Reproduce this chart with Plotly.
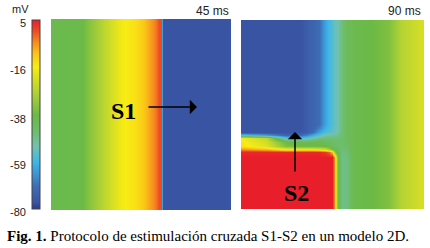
import plotly.graph_objects as go

# ---- colour scale (mV) ----
cmin, cmax = -80, 5
scale_mv = [-80, -77, -70, -64, -59, -52, -45, -38, -27, -20, -16, -10, -5, 0, 5]
scale_col = ['#2b3990', '#3a54a4', '#3d6cb5', '#3d96d5', '#3cb7e8', '#72c2b0', '#6dbd6a',
             '#6bb945', '#b5d334', '#dfe21f', '#f8ec14', '#fbc217', '#f58b1f', '#ee4a25', '#e81f2a']
colorbar_ticks = [5, -16, -38, -59, -80]

# ---- left panel (45 ms): voltage profile across x, uniform in y ----
left_x = [0, 29, 45, 60, 70, 85, 92, 99, 104, 108, 109.5, 110.5, 112, 180]
left_v = [-40, -39, -30, -22, -17, -14, -11, -7, -4, 0, 0, -62, -77, -77]
left_y = [0, 191]

# ---- right panel (90 ms): grid of voltages ----
right_x = [0, 25, 45, 60, 66, 72, 78, 84, 88, 91, 93, 94.5, 97, 101, 106, 112, 130, 147, 160, 183]
right_y = [0, 104, 108, 112, 115, 118, 122, 126, 129, 132, 137, 189]
top_row = [-77, -77, -77, -77, -74, -72, -70, -62, -58, -56, -54, -53, -51, -46, -42, -40, -38, -35, -27, -21]
bottom_row = [5, 5, 5, 5, 5, 5, 5, 5, 5, 5, -4, -22, -40, -48, -47, -40, -38, -35, -27, -21]
right_v = [
    top_row,
    top_row,
    [-77, -77, -77, -77, -74, -72, -67, -60, -57, -55, -54, -53, -51, -46, -42, -40, -38, -35, -27, -21],
    [-77, -77, -77, -76, -74, -70, -62, -57, -55, -54, -53, -52, -50, -46, -42, -40, -38, -35, -27, -21],
    [-55, -62, -72, -70, -66, -60, -55, -51, -50, -50, -49, -49, -48, -46, -42, -40, -38, -35, -27, -21],
    [-17, -25, -55, -56, -54, -50, -47, -46, -46, -46, -46, -46, -46, -45, -42, -40, -38, -35, -27, -21],
    [-15, -22, -38, -40, -40, -40, -40, -42, -43, -44, -44, -45, -45, -45, -43, -40, -38, -35, -27, -21],
    [-14, -20, -35, -37, -37, -37, -37, -38, -40, -42, -43, -44, -45, -46, -44, -40, -38, -35, -27, -21],
    [-6, -10, -18, -18, -18, -18, -20, -24, -30, -36, -40, -42, -44, -46, -45, -40, -38, -35, -27, -21],
    [4, 4, 4, 4, 4, 4, 4, 2, -2, -10, -28, -38, -42, -47, -46, -40, -38, -35, -27, -21],
    bottom_row,
    bottom_row,
]

panel_titles = ['45 ms', '90 ms']
caption_bold = 'Fig. 1.'
caption_text = ' Protocolo de estimulación cruzada S1-S2 en un modelo 2D.'

W, H = 430, 248
colorscale = [[(v - cmin) / (cmax - cmin), c] for v, c in zip(scale_mv, scale_col)]

fig = go.Figure()
fig.add_trace(go.Heatmap(
    x=left_x, y=left_y, z=[left_v, left_v], zsmooth='best',
    colorscale=colorscale, zmin=cmin, zmax=cmax, xaxis='x', yaxis='y',
    hoverinfo='skip',
    colorbar=dict(x=32 / W, xanchor='left', y=1 - 114.5 / H, yanchor='middle',
                  len=189 / H, lenmode='fraction', thickness=8, thicknessmode='pixels',
                  xpad=0, ypad=0, outlinewidth=1, outlinecolor='#444',
                  showticklabels=False, ticks=''),
))
fig.add_trace(go.Heatmap(
    x=right_x, y=right_y, z=right_v, zsmooth='best', showscale=False,
    colorscale=colorscale, zmin=cmin, zmax=cmax, xaxis='x2', yaxis='y2',
    hoverinfo='skip',
))

ax_common = dict(visible=False, showgrid=False, zeroline=False, fixedrange=True)
fig.update_layout(
    width=W, height=H, margin=dict(l=0, r=0, t=0, b=0),
    paper_bgcolor='white', plot_bgcolor='white', showlegend=False,
    xaxis=dict(domain=[51 / W, 231 / W], range=[0, 180], **ax_common),
    yaxis=dict(domain=[1 - 210 / H, 1 - 19 / H], range=[191, 0], **ax_common),
    xaxis2=dict(domain=[241 / W, 424 / W], range=[0, 183], **ax_common),
    yaxis2=dict(domain=[1 - 209 / H, 1 - 20 / H], range=[189, 0], **ax_common),
)

sans = 'Liberation Sans, Arial, sans-serif'
serif = 'Liberation Serif, Times New Roman, serif'
ann = []
# colour bar labels
bar_top, bar_bot = 20, 209
for t in colorbar_ticks:
    py = bar_top + (cmax - t) / (cmax - cmin) * (bar_bot - bar_top)
    ann.append(dict(x=28 / W, y=1 - (py + 3) / H, xref='paper', yref='paper', text=str(t),
                    showarrow=False, xanchor='right', yanchor='middle',
                    font=dict(family=sans, size=11, color='#222')))
ann.append(dict(x=31 / W, y=1 - 9 / H, xref='paper', yref='paper', text='mV', showarrow=False,
                xanchor='right', yanchor='middle', font=dict(family=sans, size=11, color='#222')))
# panel titles
ann.append(dict(x=231 / W, y=1 - 11 / H, xref='paper', yref='paper', text=panel_titles[0],
                showarrow=False, xanchor='right', yanchor='middle',
                font=dict(family=sans, size=12, color='#222')))
ann.append(dict(x=423 / W, y=1 - 11 / H, xref='paper', yref='paper', text=panel_titles[1],
                showarrow=False, xanchor='right', yanchor='middle',
                font=dict(family=sans, size=12, color='#222')))
# S1 arrow and label
ann.append(dict(x=146, y=88, xref='x', yref='y', ax=-50, ay=0, text='', showarrow=True,
                arrowhead=1, arrowsize=1.6, arrowwidth=1.5, arrowcolor='black', standoff=0))
ann.append(dict(x=72, y=92, xref='x', yref='y', text='<b>S1</b>', showarrow=False,
                xanchor='center', yanchor='middle', font=dict(family=serif, size=24, color='black')))
# S2 arrow and label
ann.append(dict(x=54, y=112, xref='x2', yref='y2', ax=0, ay=41, text='', showarrow=True,
                arrowhead=1, arrowsize=1.6, arrowwidth=1.5, arrowcolor='black', standoff=0))
ann.append(dict(x=55, y=173, xref='x2', yref='y2', text='<b>S2</b>', showarrow=False,
                xanchor='center', yanchor='middle', font=dict(family=serif, size=24, color='black')))
# caption
ann.append(dict(x=5 / W, y=1 - 236 / H, xref='paper', yref='paper',
                text='<b>' + caption_bold + '</b>' + caption_text, showarrow=False,
                xanchor='left', yanchor='middle', font=dict(family=serif, size=15, color='black')))
fig.update_layout(annotations=ann)

fig.write_html('out.html', config={'displayModeBar': False},
               post_script="document.body.style.margin='0';document.body.style.overflow='hidden';")
